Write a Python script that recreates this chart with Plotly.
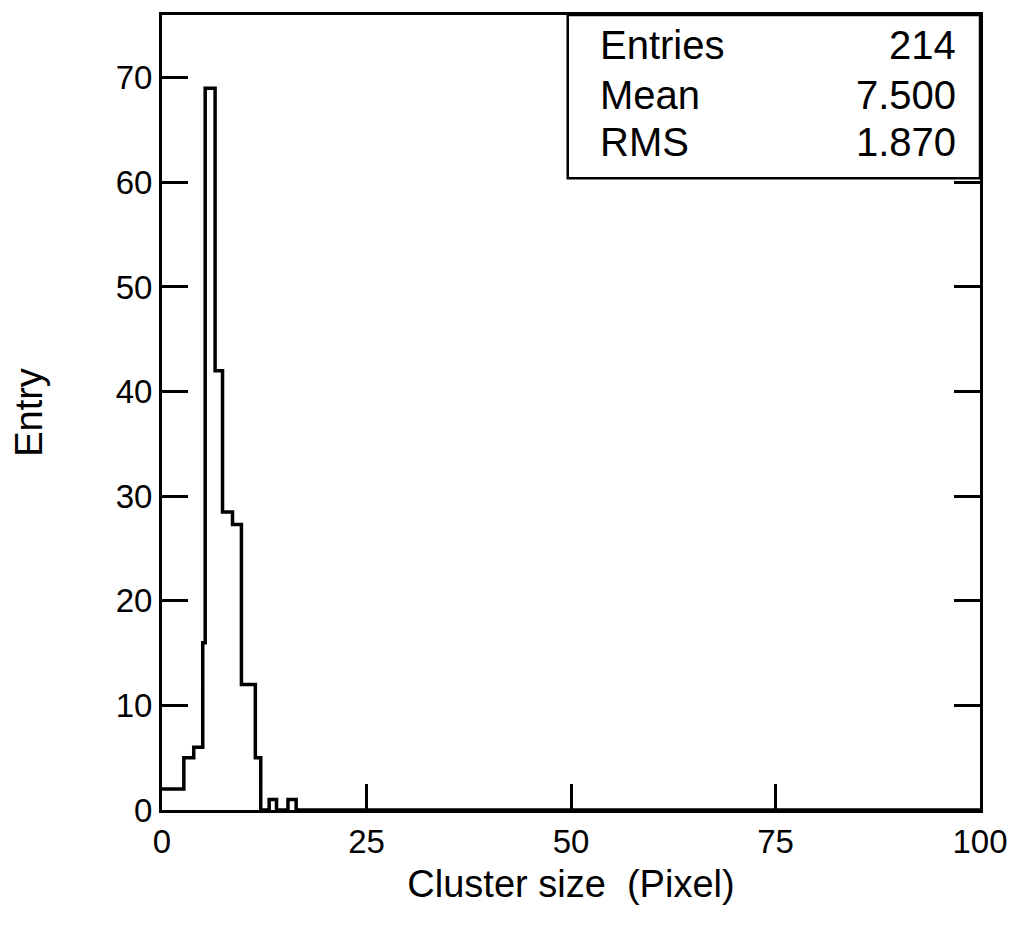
import plotly.graph_objects as go

# Histogram (bin edges in "Cluster size" units, counts)
bin_edges = [0, 2.67, 3.88, 4.98, 5.28, 6.49, 7.40, 8.62, 9.71, 11.41, 12.07,
             13.1, 14.0, 15.4, 16.4, 100]
counts = [2, 5, 6, 16, 69, 42, 28.5, 27.3, 12, 5, 0, 1, 0, 1, 0]

x_ticks = [0, 25, 50, 75, 100]
y_ticks = [0, 10, 20, 30, 40, 50, 60, 70]

stat_names = ["Entries", "Mean", "RMS"]
stat_values = ["214", "7.500", "1.870"]

FONT = "Liberation Sans, Arial, Helvetica, sans-serif"

fig = go.Figure()
fig.add_trace(go.Scatter(
    x=bin_edges,
    y=counts + [counts[-1]],
    mode="lines",
    line=dict(shape="hv", color="black", width=3.5),
    hoverinfo="skip",
    showlegend=False,
))

# statistics box
fig.add_shape(type="rect", xref="paper", yref="paper",
              x0=0.496, x1=1.0, y0=0.7945, y1=1.0,
              line=dict(color="black", width=2.5), fillcolor="white", layer="above")
row_y = [0.9625, 0.899, 0.840]
for name, val, yy in zip(stat_names, stat_values, row_y):
    fig.add_annotation(xref="paper", yref="paper", x=0.533, y=yy, text=name,
                       showarrow=False, xanchor="left", yanchor="middle",
                       font=dict(family=FONT, size=40, color="black"))
    fig.add_annotation(xref="paper", yref="paper", x=0.973, y=yy, text=val,
                       showarrow=False, xanchor="right", yanchor="middle",
                       font=dict(family=FONT, size=40, color="black"))

fig.update_layout(
    width=1028, height=937,
    margin=dict(l=162, r=48, t=12, b=127),
    paper_bgcolor="white", plot_bgcolor="white",
    font=dict(family=FONT, color="black"),
    xaxis=dict(
        range=[0, 100], tickvals=x_ticks, ticktext=[str(v) for v in x_ticks],
        ticks="inside", ticklen=26, tickwidth=3, tickcolor="black",
        showline=True, linecolor="black", linewidth=3, mirror=True,
        showgrid=False, zeroline=False,
        tickfont=dict(size=33),
        title=dict(text="Cluster size \u00a0(Pixel)", font=dict(size=38), standoff=12),
    ),
    yaxis=dict(
        range=[0, 76], tickvals=y_ticks, ticktext=[str(v) for v in y_ticks],
        ticks="inside", ticklen=26, tickwidth=3, tickcolor="black",
        showline=True, linecolor="black", linewidth=3, mirror="ticks",
        showgrid=False, zeroline=False,
        tickfont=dict(size=33),
        title=dict(text="Entry", font=dict(size=38), standoff=62),
    ),
)

fig.write_html("out.html", config={"displayModeBar": False},
               post_script="document.body.style.margin='0';")
